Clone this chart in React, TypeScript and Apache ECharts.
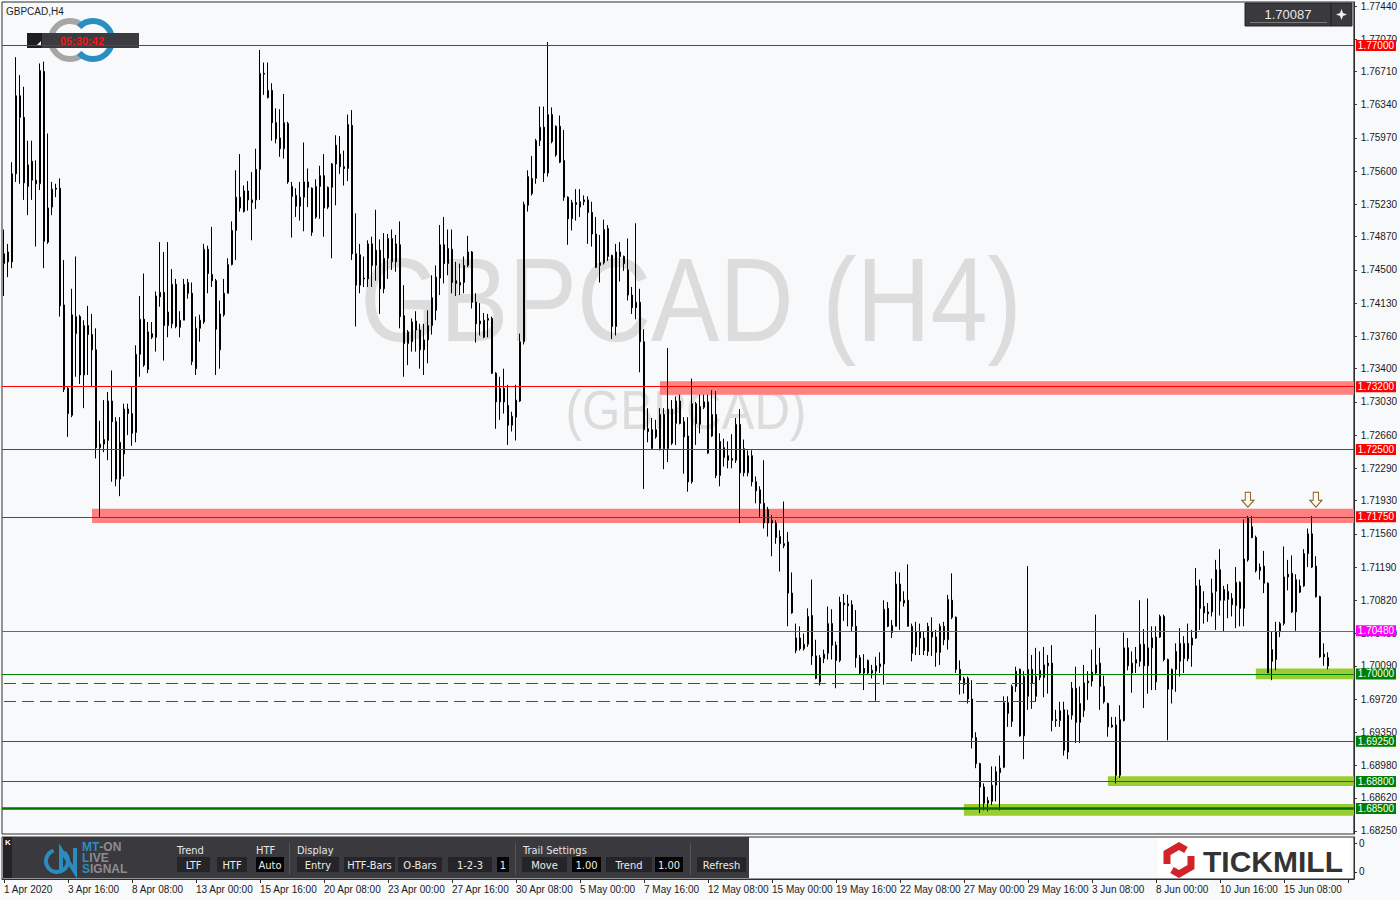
import React, { useEffect, useRef } from "react";
import * as echarts from "echarts";

// ---------- DATA (GBPCAD H4) ----------
const openP = [
1.7457,1.7470,1.7459,1.7557,1.7644,1.7620,1.7543,1.7571,1.7550,1.7546,
1.7671,1.7481,1.7520,1.7541,1.7541,1.7411,1.7318,1.7288,1.7379,1.7398,
1.7333,1.7388,1.7378,1.7361,1.7252,1.7256,1.7260,1.7304,1.7281,1.7217,
1.7245,1.7295,1.7290,1.7269,1.7356,1.7395,1.7339,1.7379,1.7375,1.7420,
1.7425,1.7388,1.7390,1.7434,1.7386,1.7394,1.7436,1.7424,1.7340,1.7385,
1.7392,1.7473,1.7445,1.7438,1.7361,1.7400,1.7424,1.7456,1.7494,1.7531,
1.7515,1.7538,1.7528,1.7528,1.7562,1.7669,1.7642,1.7650,1.7614,1.7597,
1.7585,1.7613,1.7543,1.7533,1.7521,1.7531,1.7548,1.7541,1.7509,1.7543,
1.7555,1.7520,1.7542,1.7568,1.7579,1.7565,1.7563,1.7611,1.7468,1.7433,
1.7441,1.7440,1.7479,1.7455,1.7472,1.7429,1.7463,1.7459,1.7479,1.7478,
1.7399,1.7368,1.7370,1.7393,1.7383,1.7361,1.7372,1.7388,1.7405,1.7441,
1.7478,1.7457,1.7473,1.7438,1.7433,1.7436,1.7455,1.7470,1.7414,1.7393,
1.7375,1.7394,1.7396,1.7335,1.7303,1.7318,1.7299,1.7277,1.7286,1.7304,
1.7370,1.7522,1.7535,1.7552,1.7594,1.7609,1.7558,1.7623,1.7578,1.7610,
1.7572,1.7531,1.7507,1.7525,1.7520,1.7526,1.7528,1.7514,1.7490,1.7455,
1.7458,1.7496,1.7466,1.7387,1.7470,1.7465,1.7450,1.7422,1.7408,1.7414,
1.7370,1.7273,1.7251,1.7264,1.7251,1.7289,1.7251,1.7295,1.7279,1.7304,
1.7281,1.7265,1.7214,1.7301,1.7278,1.7297,1.7303,1.7265,1.7289,1.7221,
1.7252,1.7243,1.7240,1.7238,1.7278,1.7224,1.7224,1.7243,1.7214,1.7205,
1.7190,1.7168,1.7171,1.7168,1.7153,1.7145,1.7147,1.7090,1.7026,1.7040,
1.7028,1.7033,1.7065,1.7020,1.6991,1.7017,1.7023,1.7056,1.7032,1.7015,
1.7079,1.7078,1.7077,1.7053,1.7018,1.7006,1.7015,1.7001,1.7003,1.7008,
1.7011,1.7073,1.7046,1.7053,1.7100,1.7079,1.7082,1.7053,1.7030,1.7047,
1.7040,1.7025,1.7047,1.7041,1.7024,1.7053,1.7038,1.7082,1.7063,1.7005,
1.6988,1.6995,1.6972,1.6929,1.6900,1.6874,1.6856,1.6858,1.6876,1.6890,
1.6896,1.6968,1.6947,1.6986,1.7005,1.6931,1.6975,1.7005,1.6997,1.6996,
1.6996,1.7009,1.7012,1.6949,1.6948,1.6960,1.6913,1.6954,1.6984,1.6946,
1.6959,1.6990,1.6992,1.7001,1.7012,1.6986,1.6967,1.6943,1.6943,1.6887,
1.6948,1.7029,1.7001,1.7012,1.7014,1.7033,1.7009,1.7029,1.6991,1.7041,
1.7064,1.7016,1.6983,1.7005,1.7014,1.7017,1.7034,1.7032,1.7040,1.7098,
1.7075,1.7069,1.7069,1.7092,1.7116,1.7082,1.7083,1.7084,1.7076,1.7102,
1.7073,1.7127,1.7164,1.7152,1.7115,1.7120,1.7101,1.7014,1.7016,1.7047,
1.7056,1.7108,1.7112,1.7069,1.7091,1.7098,1.7134,1.7156,1.7120,1.7086,
1.7022,1.7018
];

const highP = [
1.7495,1.7479,1.7570,1.7687,1.7667,1.7654,1.7594,1.7594,1.7572,1.7680,
1.7682,1.7602,1.7548,1.7546,1.7552,1.7461,1.7320,1.7429,1.7465,1.7400,
1.7394,1.7410,1.7401,1.7385,1.7282,1.7305,1.7314,1.7338,1.7286,1.7286,
1.7301,1.7301,1.7320,1.7366,1.7421,1.7446,1.7392,1.7392,1.7426,1.7481,
1.7470,1.7481,1.7451,1.7440,1.7404,1.7440,1.7440,1.7436,1.7398,1.7400,
1.7479,1.7477,1.7498,1.7440,1.7416,1.7440,1.7463,1.7504,1.7561,1.7579,
1.7544,1.7549,1.7559,1.7585,1.7695,1.7681,1.7681,1.7658,1.7630,1.7629,
1.7646,1.7615,1.7548,1.7541,1.7548,1.7592,1.7563,1.7542,1.7551,1.7566,
1.7579,1.7543,1.7569,1.7600,1.7599,1.7583,1.7623,1.7628,1.7513,1.7479,
1.7465,1.7483,1.7487,1.7517,1.7484,1.7491,1.7490,1.7495,1.7489,1.7504,
1.7433,1.7383,1.7396,1.7404,1.7390,1.7390,1.7405,1.7444,1.7455,1.7500,
1.7509,1.7495,1.7495,1.7459,1.7457,1.7465,1.7488,1.7471,1.7424,1.7413,
1.7402,1.7401,1.7398,1.7336,1.7331,1.7340,1.7322,1.7292,1.7322,1.7379,
1.7526,1.7561,1.7577,1.7596,1.7632,1.7632,1.7704,1.7631,1.7611,1.7622,
1.7606,1.7532,1.7528,1.7540,1.7540,1.7533,1.7532,1.7526,1.7509,1.7489,
1.7506,1.7500,1.7467,1.7479,1.7481,1.7466,1.7485,1.7431,1.7502,1.7429,
1.7384,1.7296,1.7285,1.7283,1.7296,1.7296,1.7363,1.7305,1.7309,1.7311,
1.7286,1.7286,1.7329,1.7303,1.7311,1.7311,1.7311,1.7316,1.7315,1.7268,
1.7262,1.7259,1.7267,1.7285,1.7295,1.7261,1.7249,1.7249,1.7220,1.7209,
1.7238,1.7186,1.7177,1.7171,1.7160,1.7192,1.7158,1.7113,1.7056,1.7053,
1.7045,1.7073,1.7105,1.7038,1.7021,1.7027,1.7075,1.7072,1.7036,1.7086,
1.7089,1.7088,1.7082,1.7071,1.7021,1.7022,1.7016,1.7010,1.7019,1.7024,
1.7082,1.7080,1.7060,1.7114,1.7113,1.7092,1.7122,1.7056,1.7058,1.7056,
1.7047,1.7057,1.7063,1.7049,1.7056,1.7058,1.7088,1.7112,1.7064,1.7015,
1.6997,1.6997,1.6993,1.6935,1.6901,1.6878,1.6863,1.6897,1.6897,1.6909,
1.6975,1.6975,1.6988,1.7008,1.7006,1.7003,1.7120,1.7021,1.7029,1.7025,
1.7030,1.7021,1.7032,1.6960,1.6969,1.6969,1.6960,1.6991,1.7008,1.6986,
1.7010,1.7003,1.7027,1.7066,1.7029,1.6998,1.6968,1.6952,1.6952,1.6965,
1.7046,1.7040,1.7025,1.7030,1.7082,1.7050,1.7084,1.7053,1.7053,1.7066,
1.7066,1.7017,1.7006,1.7034,1.7051,1.7042,1.7056,1.7049,1.7118,1.7105,
1.7092,1.7079,1.7106,1.7127,1.7139,1.7098,1.7100,1.7090,1.7119,1.7103,
1.7172,1.7176,1.7176,1.7154,1.7123,1.7137,1.7102,1.7047,1.7058,1.7058,
1.7142,1.7127,1.7132,1.7111,1.7105,1.7139,1.7162,1.7176,1.7131,1.7087,
1.7034,1.7024
];

const lowP = [
1.7421,1.7442,1.7452,1.7548,1.7546,1.7528,1.7511,1.7528,1.7476,1.7539,
1.7452,1.7479,1.7511,1.7531,1.7398,1.7314,1.7264,1.7286,1.7331,1.7323,
1.7296,1.7333,1.7320,1.7240,1.7175,1.7247,1.7238,1.7214,1.7209,1.7198,
1.7220,1.7266,1.7254,1.7258,1.7331,1.7342,1.7335,1.7373,1.7359,1.7409,
1.7349,1.7375,1.7385,1.7385,1.7375,1.7394,1.7418,1.7344,1.7333,1.7370,
1.7390,1.7424,1.7431,1.7333,1.7340,1.7398,1.7424,1.7455,1.7461,1.7515,
1.7514,1.7516,1.7483,1.7518,1.7528,1.7645,1.7641,1.7594,1.7591,1.7576,
1.7574,1.7546,1.7486,1.7509,1.7505,1.7493,1.7520,1.7488,1.7507,1.7507,
1.7487,1.7518,1.7463,1.7522,1.7557,1.7544,1.7549,1.7461,1.7387,1.7424,
1.7431,1.7431,1.7431,1.7438,1.7401,1.7424,1.7440,1.7450,1.7448,1.7385,
1.7331,1.7344,1.7359,1.7359,1.7340,1.7333,1.7346,1.7378,1.7394,1.7422,
1.7435,1.7444,1.7424,1.7421,1.7422,1.7424,1.7453,1.7407,1.7369,1.7377,
1.7374,1.7375,1.7334,1.7273,1.7283,1.7290,1.7255,1.7270,1.7260,1.7303,
1.7367,1.7515,1.7533,1.7546,1.7588,1.7548,1.7554,1.7591,1.7576,1.7569,
1.7527,1.7478,1.7494,1.7505,1.7509,1.7522,1.7479,1.7476,1.7452,1.7436,
1.7456,1.7460,1.7373,1.7377,1.7437,1.7449,1.7416,1.7401,1.7395,1.7336,
1.7206,1.7258,1.7250,1.7262,1.7249,1.7228,1.7236,1.7255,1.7255,1.7278,
1.7223,1.7203,1.7212,1.7255,1.7268,1.7295,1.7245,1.7264,1.7218,1.7209,
1.7231,1.7229,1.7229,1.7235,1.7168,1.7220,1.7220,1.7209,1.7190,1.7175,
1.7162,1.7153,1.7131,1.7145,1.7114,1.7140,1.7053,1.7067,1.7023,1.7026,
1.7026,1.7030,1.7010,1.6994,1.6987,1.7012,1.7016,1.7016,1.6984,1.7013,
1.7059,1.7053,1.7047,1.7007,1.7000,1.6982,1.7000,1.6995,1.6970,1.7001,
1.6988,1.7052,1.7040,1.7053,1.7049,1.7075,1.7053,1.7014,1.7021,1.7021,
1.7021,1.7020,1.7020,1.7008,1.7010,1.7032,1.7027,1.7061,1.7001,1.6977,
1.6978,1.6967,1.6917,1.6895,1.6845,1.6848,1.6847,1.6854,1.6858,1.6848,
1.6895,1.6941,1.6941,1.6980,1.6930,1.6905,1.6960,1.6961,1.6969,1.6993,
1.6974,1.6978,1.6936,1.6941,1.6941,1.6909,1.6905,1.6949,1.6923,1.6923,
1.6952,1.6971,1.6986,1.7000,1.6960,1.6967,1.6930,1.6940,1.6878,1.6884,
1.6947,1.7004,1.6979,1.7001,1.7008,1.6962,1.6978,1.6982,1.6982,1.7040,
1.7014,1.6926,1.6967,1.6980,1.6997,1.7001,1.7014,1.7008,1.7039,1.7049,
1.7056,1.7058,1.7064,1.7049,1.7065,1.7047,1.7062,1.7064,1.7051,1.7053,
1.7053,1.7125,1.7151,1.7113,1.7105,1.7090,1.7001,1.6993,1.7004,1.7041,
1.7054,1.7093,1.7068,1.7048,1.7090,1.7097,1.7119,1.7118,1.7085,1.7018,
1.7009,1.7005
];

const closeP = [
1.7468,1.7459,1.7557,1.7644,1.7620,1.7547,1.7567,1.7550,1.7546,1.7672,
1.7482,1.7519,1.7540,1.7540,1.7410,1.7317,1.7290,1.7400,1.7398,1.7333,
1.7388,1.7378,1.7361,1.7252,1.7256,1.7261,1.7304,1.7281,1.7217,1.7258,
1.7295,1.7290,1.7268,1.7356,1.7395,1.7344,1.7381,1.7375,1.7421,1.7425,
1.7388,1.7403,1.7434,1.7387,1.7394,1.7434,1.7424,1.7348,1.7385,1.7394,
1.7473,1.7446,1.7438,1.7384,1.7401,1.7424,1.7456,1.7494,1.7531,1.7519,
1.7538,1.7528,1.7525,1.7562,1.7669,1.7668,1.7650,1.7614,1.7596,1.7585,
1.7614,1.7548,1.7532,1.7521,1.7531,1.7548,1.7542,1.7492,1.7543,1.7555,
1.7519,1.7542,1.7568,1.7589,1.7565,1.7563,1.7612,1.7468,1.7433,1.7467,
1.7440,1.7479,1.7455,1.7472,1.7429,1.7463,1.7485,1.7485,1.7459,1.7398,
1.7368,1.7381,1.7392,1.7383,1.7361,1.7372,1.7388,1.7419,1.7442,1.7478,
1.7457,1.7474,1.7436,1.7435,1.7436,1.7455,1.7470,1.7414,1.7390,1.7390,
1.7394,1.7396,1.7335,1.7303,1.7318,1.7303,1.7277,1.7287,1.7305,1.7370,
1.7523,1.7554,1.7552,1.7594,1.7609,1.7558,1.7623,1.7593,1.7610,1.7570,
1.7531,1.7507,1.7525,1.7523,1.7526,1.7528,1.7514,1.7490,1.7453,1.7458,
1.7495,1.7465,1.7387,1.7470,1.7465,1.7457,1.7422,1.7408,1.7414,1.7370,
1.7272,1.7270,1.7272,1.7272,1.7289,1.7251,1.7295,1.7257,1.7304,1.7279,
1.7264,1.7214,1.7301,1.7279,1.7298,1.7303,1.7246,1.7289,1.7221,1.7259,
1.7241,1.7238,1.7238,1.7278,1.7224,1.7251,1.7243,1.7214,1.7204,1.7190,
1.7168,1.7183,1.7168,1.7152,1.7145,1.7143,1.7090,1.7068,1.7040,1.7028,
1.7033,1.7064,1.7020,1.6995,1.7018,1.7022,1.7056,1.7032,1.7015,1.7080,
1.7077,1.7076,1.7053,1.7018,1.7001,1.7001,1.7001,1.7004,1.7009,1.7011,
1.7072,1.7053,1.7054,1.7100,1.7081,1.7082,1.7053,1.7023,1.7047,1.7040,
1.7026,1.7053,1.7041,1.7024,1.7053,1.7038,1.7083,1.7063,1.7005,1.6993,
1.6995,1.6972,1.6929,1.6900,1.6874,1.6856,1.6859,1.6876,1.6891,1.6895,
1.6968,1.6956,1.6986,1.7003,1.6931,1.6997,1.7005,1.6990,1.6975,1.7004,
1.7010,1.7012,1.6948,1.6948,1.6959,1.6915,1.6954,1.6984,1.6946,1.6967,
1.6990,1.6992,1.7002,1.7010,1.6986,1.6969,1.6941,1.6941,1.6887,1.6949,
1.7029,1.7009,1.7012,1.7016,1.7033,1.7009,1.7029,1.7040,1.7041,1.7064,
1.7016,1.6983,1.7005,1.7025,1.7034,1.7034,1.7017,1.7040,1.7098,1.7073,
1.7068,1.7067,1.7090,1.7116,1.7082,1.7094,1.7092,1.7077,1.7102,1.7073,
1.7128,1.7174,1.7152,1.7115,1.7119,1.7101,1.7001,1.7027,1.7047,1.7056,
1.7108,1.7111,1.7069,1.7105,1.7098,1.7134,1.7156,1.7119,1.7086,1.7019,
1.7019,1.70087
];

const xTickLabels = [
  "1 Apr 2020", "3 Apr 16:00", "8 Apr 08:00", "13 Apr 00:00", "15 Apr 16:00",
  "20 Apr 08:00", "23 Apr 00:00", "27 Apr 16:00", "30 Apr 08:00", "5 May 00:00",
  "7 May 16:00", "12 May 08:00", "15 May 00:00", "19 May 16:00", "22 May 08:00",
  "27 May 00:00", "29 May 16:00", "3 Jun 08:00", "8 Jun 00:00", "10 Jun 16:00",
  "15 Jun 08:00",
];

const yTickValues = [
  1.7744, 1.7707, 1.7671, 1.7634, 1.7597, 1.756, 1.7523, 1.7487, 1.745,
  1.7413, 1.7376, 1.734, 1.7303, 1.7266, 1.7229, 1.7193, 1.7156, 1.7119,
  1.7082, 1.7045, 1.7009, 1.6972, 1.6935, 1.6898, 1.6862, 1.6825,
];

const resistanceLevels = [1.77, 1.732, 1.725, 1.7175];
const pivotLevels = [1.7048];
const supportLevels = [1.7, 1.6925, 1.688];
const mainSupportLevels = [1.685];
const dashedLevels = [1.699, 1.697];
const dashedEndIndex = 258;

const redZoneStart = [164, 22];
const redZoneTop = [1.7326, 1.7184];
const redZoneBottom = [1.7311, 1.7168];

const greenZoneStart = [313, 276, 240];
const greenZoneTop = [1.7006, 1.6886, 1.6855];
const greenZoneBottom = [1.6994, 1.6875, 1.6842];

const arrowBars = [311, 328];
const arrowPrice = [1.7194, 1.7194];

const lastPrice = "1.70087";
const timerText = "05:30:42";

// ---------- helpers ----------
const MONTHS = ["Jan", "Feb", "Mar", "Apr", "May", "Jun", "Jul", "Aug", "Sep", "Oct", "Nov", "Dec"];
function buildBarTimes(count: number): string[] {
  const out: string[] = [];
  let t = Date.UTC(2020, 3, 1, 0, 0);
  while (out.length < count) {
    const d = new Date(t);
    const wd = d.getUTCDay();
    if (wd !== 0 && wd !== 6) {
      out.push(`${d.getUTCDate()} ${MONTHS[d.getUTCMonth()]} ${String(d.getUTCHours()).padStart(2, "0")}:00`);
    }
    t += 4 * 3600 * 1000;
  }
  return out;
}

const FONT = "'Liberation Sans', Arial, sans-serif";
const NARROW = "'Liberation Sans Narrow', 'DejaVu Sans Condensed', 'Liberation Sans', sans-serif";

function buildOption() {
  const SLOTS = 338;
  const categories = buildBarTimes(SLOTS);
  const candles = openP.map((o, i) => [o, closeP[i], lowP[i], highP[i]]);

  const priceLabel = (bg: string) => ({
    show: true,
    position: "end",
    distance: 2,
    formatter: (p: any) => Number(p.value).toFixed(5),
    backgroundColor: bg,
    color: "#ffffff",
    fontSize: 10,
    fontFamily: FONT,
    padding: [1, 2, 0, 2],
  });

  const markLineData: any[] = [];
  resistanceLevels.forEach((v) =>
    markLineData.push({ yAxis: v, lineStyle: { color: "#ff0000", width: 1, type: "solid" }, label: priceLabel("#ff0000") })
  );
  pivotLevels.forEach((v) =>
    markLineData.push({ yAxis: v, lineStyle: { color: "#ff00ff", width: 1, type: "solid" }, label: priceLabel("#ff00ff") })
  );
  supportLevels.forEach((v) =>
    markLineData.push({ yAxis: v, lineStyle: { color: "#008000", width: 1, type: "solid" }, label: priceLabel("#008000") })
  );
  mainSupportLevels.forEach((v) =>
    markLineData.push({ yAxis: v, lineStyle: { color: "#007000", width: 2.5, type: "solid" }, label: priceLabel("#008000") })
  );
  dashedLevels.forEach((v) =>
    markLineData.push([
      { coord: [0, v], lineStyle: { color: "#0b7a0b", width: 1, type: [12, 6] }, label: { show: false } },
      { coord: [dashedEndIndex, v] },
    ])
  );

  const markAreaData: any[] = [];
  redZoneStart.forEach((s, i) =>
    markAreaData.push([
      { xAxis: s, yAxis: redZoneTop[i], itemStyle: { color: "#ff8080" } },
      { yAxis: redZoneBottom[i] },
    ])
  );
  greenZoneStart.forEach((s, i) =>
    markAreaData.push([
      { xAxis: s, yAxis: greenZoneTop[i], itemStyle: { color: "#9acd32" } },
      { yAxis: greenZoneBottom[i] },
    ])
  );

  const buttons: [number, number, string, boolean][] = [
    [177, 33, "LTF", false], [217, 30, "HTF", false], [256, 28, "Auto", true],
    [297, 42, "Entry", false], [344, 51, "HTF-Bars", false], [398, 44, "O-Bars", false],
    [448, 44, "1-2-3", false], [497, 12, "1", true], [522, 45, "Move", false],
    [572, 29, "1.00", true], [606, 46, "Trend", false], [655, 28, "1.00", true],
    [697, 49, "Refresh", false],
  ];

  const panel: any[] = [
    { type: "rect", shape: { x: 3, y: 837, width: 746, height: 41 }, style: { fill: "#3a393e" } },
    { type: "rect", shape: { x: 3, y: 837, width: 9, height: 41 }, style: { fill: "#232226" } },
    { type: "text", x: 5, y: 842, style: { text: "K", fill: "#ffffff", fontSize: 8, fontFamily: FONT, fontWeight: "bold", verticalAlign: "middle" } },
    { type: "arc", shape: { cx: 57, cy: 861, r: 11, startAngle: -0.9, endAngle: 4.4, clockwise: true }, style: { stroke: "#2b8cc0", lineWidth: 4, fill: "none" } },
    { type: "polyline", shape: { points: [[61, 872], [61, 850], [75, 872], [75, 848]] }, style: { stroke: "#2b8cc0", lineWidth: 4, fill: "none" } },
    {
      type: "text", x: 82, y: 847,
      style: { text: "{b|MT}{g|-ON}", verticalAlign: "middle", rich: { b: { fill: "#2b8cc0", fontSize: 12, fontWeight: "bold", fontFamily: FONT }, g: { fill: "#8d8c92", fontSize: 12, fontWeight: "bold", fontFamily: FONT } } },
    },
    {
      type: "text", x: 82, y: 858,
      style: { text: "{b|L}{g|IVE}", verticalAlign: "middle", rich: { b: { fill: "#2b8cc0", fontSize: 12, fontWeight: "bold", fontFamily: FONT }, g: { fill: "#8d8c92", fontSize: 12, fontWeight: "bold", fontFamily: FONT } } },
    },
    {
      type: "text", x: 82, y: 869,
      style: { text: "{b|S}{g|IGNAL}", verticalAlign: "middle", rich: { b: { fill: "#2b8cc0", fontSize: 12, fontWeight: "bold", fontFamily: FONT }, g: { fill: "#8d8c92", fontSize: 12, fontWeight: "bold", fontFamily: FONT } } },
    },
    { type: "text", x: 177, y: 850, style: { text: "Trend", fill: "#e6e6e6", fontSize: 11, fontFamily: NARROW, verticalAlign: "middle" } },
    { type: "text", x: 256, y: 850, style: { text: "HTF", fill: "#e6e6e6", fontSize: 11, fontFamily: NARROW, verticalAlign: "middle" } },
    { type: "text", x: 297, y: 850, style: { text: "Display", fill: "#e6e6e6", fontSize: 11, fontFamily: NARROW, verticalAlign: "middle" } },
    { type: "text", x: 523, y: 850, style: { text: "Trail Settings", fill: "#e6e6e6", fontSize: 11, fontFamily: NARROW, verticalAlign: "middle" } },
    { type: "line", shape: { x1: 289.5, y1: 843, x2: 289.5, y2: 875 }, style: { stroke: "#55545a", lineWidth: 1 } },
    { type: "line", shape: { x1: 515.5, y1: 843, x2: 515.5, y2: 875 }, style: { stroke: "#55545a", lineWidth: 1 } },
    { type: "line", shape: { x1: 690.5, y1: 843, x2: 690.5, y2: 875 }, style: { stroke: "#55545a", lineWidth: 1 } },
  ];
  buttons.forEach(([x, w, t, dark]) => {
    panel.push({ type: "rect", shape: { x, y: 857, width: w, height: 15 }, style: { fill: dark ? "#050505" : "#252428" } });
    panel.push({ type: "text", x: x + w / 2, y: 865, style: { text: t, fill: "#ececec", fontSize: 11, fontFamily: NARROW, align: "center", verticalAlign: "middle" } });
  });

  const tickmill: any[] = [
    { type: "rect", shape: { x: 1158, y: 838, width: 192, height: 40 }, style: { fill: "#ffffff" } },
    { type: "polyline", shape: { points: [[1186, 850], [1179, 846], [1167, 853], [1167, 864]] }, style: { stroke: "#d3222a", lineWidth: 7, fill: "none", lineJoin: "miter" } },
    { type: "polyline", shape: { points: [[1172, 870], [1179, 874], [1191, 867], [1191, 856]] }, style: { stroke: "#d3222a", lineWidth: 7, fill: "none", lineJoin: "miter" } },
    { type: "text", x: 1203, y: 861, style: { text: "TICKMILL", fill: "#333333", fontSize: 30, fontWeight: "bold", fontFamily: FONT, verticalAlign: "middle" } },
  ];

  const topDecor: any[] = [
    // watermark
    { type: "text", x: 691, y: 300, scaleX: 0.87, silent: true, style: { text: "GBPCAD (H4)", fill: "#dcdcdc", fontSize: 118, fontFamily: FONT, align: "center", verticalAlign: "middle" } },
    { type: "text", x: 686, y: 409, scaleX: 0.88, silent: true, style: { text: "(GBPCAD)", fill: "#dcdcdc", fontSize: 56, fontFamily: FONT, align: "center", verticalAlign: "middle" } },
    // title
    { type: "text", x: 6, y: 11, style: { text: "GBPCAD,H4", fill: "#1e1e1e", fontSize: 10, fontFamily: FONT, verticalAlign: "middle" } },
    // logo arcs
    { type: "arc", shape: { cx: 70, cy: 40, r: 19, startAngle: 0.75, endAngle: 2 * Math.PI - 0.75, clockwise: true }, style: { stroke: "#a6a6a6", lineWidth: 6, fill: "none" } },
    { type: "arc", shape: { cx: 93, cy: 40, r: 19, startAngle: Math.PI + 0.75, endAngle: 3 * Math.PI - 0.75, clockwise: true }, style: { stroke: "#2a8fc0", lineWidth: 6, fill: "none" } },
    // timer bar
    { type: "rect", shape: { x: 27, y: 33, width: 112, height: 15 }, style: { fill: "#3c3b40" } },
    { type: "rect", shape: { x: 27, y: 33, width: 15, height: 15 }, style: { fill: "#1e1e20" } },
    { type: "polygon", shape: { points: [[36, 46], [41, 46], [41, 41]] }, style: { fill: "#ffffff" } },
    { type: "text", x: 82, y: 41, style: { text: timerText, fill: "#ff1010", fontSize: 11, fontWeight: "bold", fontFamily: FONT, align: "center", verticalAlign: "middle" } },
    // price box
    { type: "rect", shape: { x: 1245, y: 3, width: 86, height: 23 }, style: { fill: "#3a393e", stroke: "#222", lineWidth: 1 } },
    { type: "line", shape: { x1: 1250, y1: 22.5, x2: 1327, y2: 22.5 }, style: { stroke: "#7a7a7f", lineWidth: 1 } },
    { type: "text", x: 1288, y: 14, style: { text: lastPrice, fill: "#e8e8e8", fontSize: 13, fontFamily: FONT, align: "center", verticalAlign: "middle" } },
    { type: "rect", shape: { x: 1331, y: 3, width: 21, height: 23 }, style: { fill: "#3a393e", stroke: "#222", lineWidth: 1 } },
    { type: "polygon", shape: { points: [[1341.5, 9], [1343, 13], [1347, 14.5], [1343, 16], [1341.5, 20], [1340, 16], [1336, 14.5], [1340, 13]] }, style: { fill: "#f0f0f0" } },
  ];

  const axisFontColor = "#1a1a1a";

  return {
    animation: false,
    backgroundColor: "#f8f9fb",
    textStyle: { fontFamily: FONT },
    grid: [
      { left: 2, top: 2, width: 1352, height: 832, show: true, borderColor: "#2e2e2e", borderWidth: 1, backgroundColor: "transparent" },
      { left: 2, top: 837, width: 1352, height: 42, show: true, borderColor: "#2e2e2e", borderWidth: 1, backgroundColor: "transparent" },
    ],
    xAxis: [
      {
        type: "category", gridIndex: 0, data: categories, boundaryGap: true,
        axisLine: { show: false }, axisTick: { show: false }, axisLabel: { show: false }, splitLine: { show: false },
      },
      {
        type: "category", gridIndex: 1, data: categories, boundaryGap: true, position: "bottom",
        axisLine: { show: true, lineStyle: { color: "#2e2e2e", width: 1 } },
        axisTick: { show: true, interval: 15, length: 4, alignWithLabel: true, lineStyle: { color: "#2e2e2e" } },
        axisLabel: {
          show: true, interval: 15, align: "left", margin: 5, fontSize: 10, color: axisFontColor, fontFamily: FONT,
          formatter: (_v: string, idx: number) => (idx % 16 === 0 && xTickLabels[idx / 16]) || "",
        },
        splitLine: { show: false },
      },
    ],
    yAxis: [
      {
        type: "value", gridIndex: 0, position: "right", min: 1.682164, max: 1.774846, scale: true,
        splitLine: { show: false },
        axisLine: { show: true, lineStyle: { color: "#2e2e2e", width: 1 } },
        axisTick: { show: true, length: 3, customValues: yTickValues, lineStyle: { color: "#2e2e2e" } },
        axisLabel: {
          show: true, customValues: yTickValues, margin: 7, fontSize: 10, color: axisFontColor, fontFamily: FONT,
          formatter: (v: number) => v.toFixed(5),
        },
      },
      {
        type: "value", gridIndex: 1, position: "right", min: 0, max: 1,
        splitLine: { show: false },
        axisLine: { show: true, lineStyle: { color: "#2e2e2e", width: 1 } },
        axisTick: { show: true, length: 3, customValues: [0.857, 0.167], lineStyle: { color: "#2e2e2e" } },
        axisLabel: { show: true, customValues: [0.857, 0.167], margin: 5, fontSize: 10, color: axisFontColor, fontFamily: FONT, formatter: () => "0" },
      },
    ],
    graphic: [...topDecor, ...panel, ...tickmill],
    series: [
      {
        type: "candlestick",
        xAxisIndex: 0,
        yAxisIndex: 0,
        data: candles,
        barWidth: 2,
        large: false,
        itemStyle: { color: "#ffffff", color0: "#000000", borderColor: "#000000", borderColor0: "#000000", borderColorDoji: "#000000", borderWidth: 1 },
        markLine: { silent: true, precision: 5, symbol: ["none", "none"], animation: false, data: markLineData },
        markArea: { silent: true, precision: 5, animation: false, data: markAreaData },
        markPoint: {
          silent: true,
          animation: false,
          symbol: "path://M4,0 L10,0 L10,8 L14,8 L7,15 L0,8 L4,8 Z",
          symbolSize: [13, 15],
          symbolKeepAspect: true,
          itemStyle: { color: "#fffaf0", borderColor: "#8a5a20", borderWidth: 1 },
          label: { show: false },
          data: arrowBars.map((b, i) => ({ coord: [b, arrowPrice[i]] })),
        },
      },
      { type: "line", xAxisIndex: 1, yAxisIndex: 1, data: [], silent: true },
    ],
  };
}

export default function App() {
  const ref = useRef<HTMLDivElement>(null);
  useEffect(() => {
    if (!ref.current) return;
    const chart = echarts.init(ref.current, null, { renderer: "svg" });
    chart.setOption(buildOption() as any);
    return () => chart.dispose();
  }, []);
  return (
    <div
      ref={ref}
      style={{ position: "fixed", left: 0, top: 0, width: 1400, height: 900, background: "#f8f9fb" }}
    />
  );
}
